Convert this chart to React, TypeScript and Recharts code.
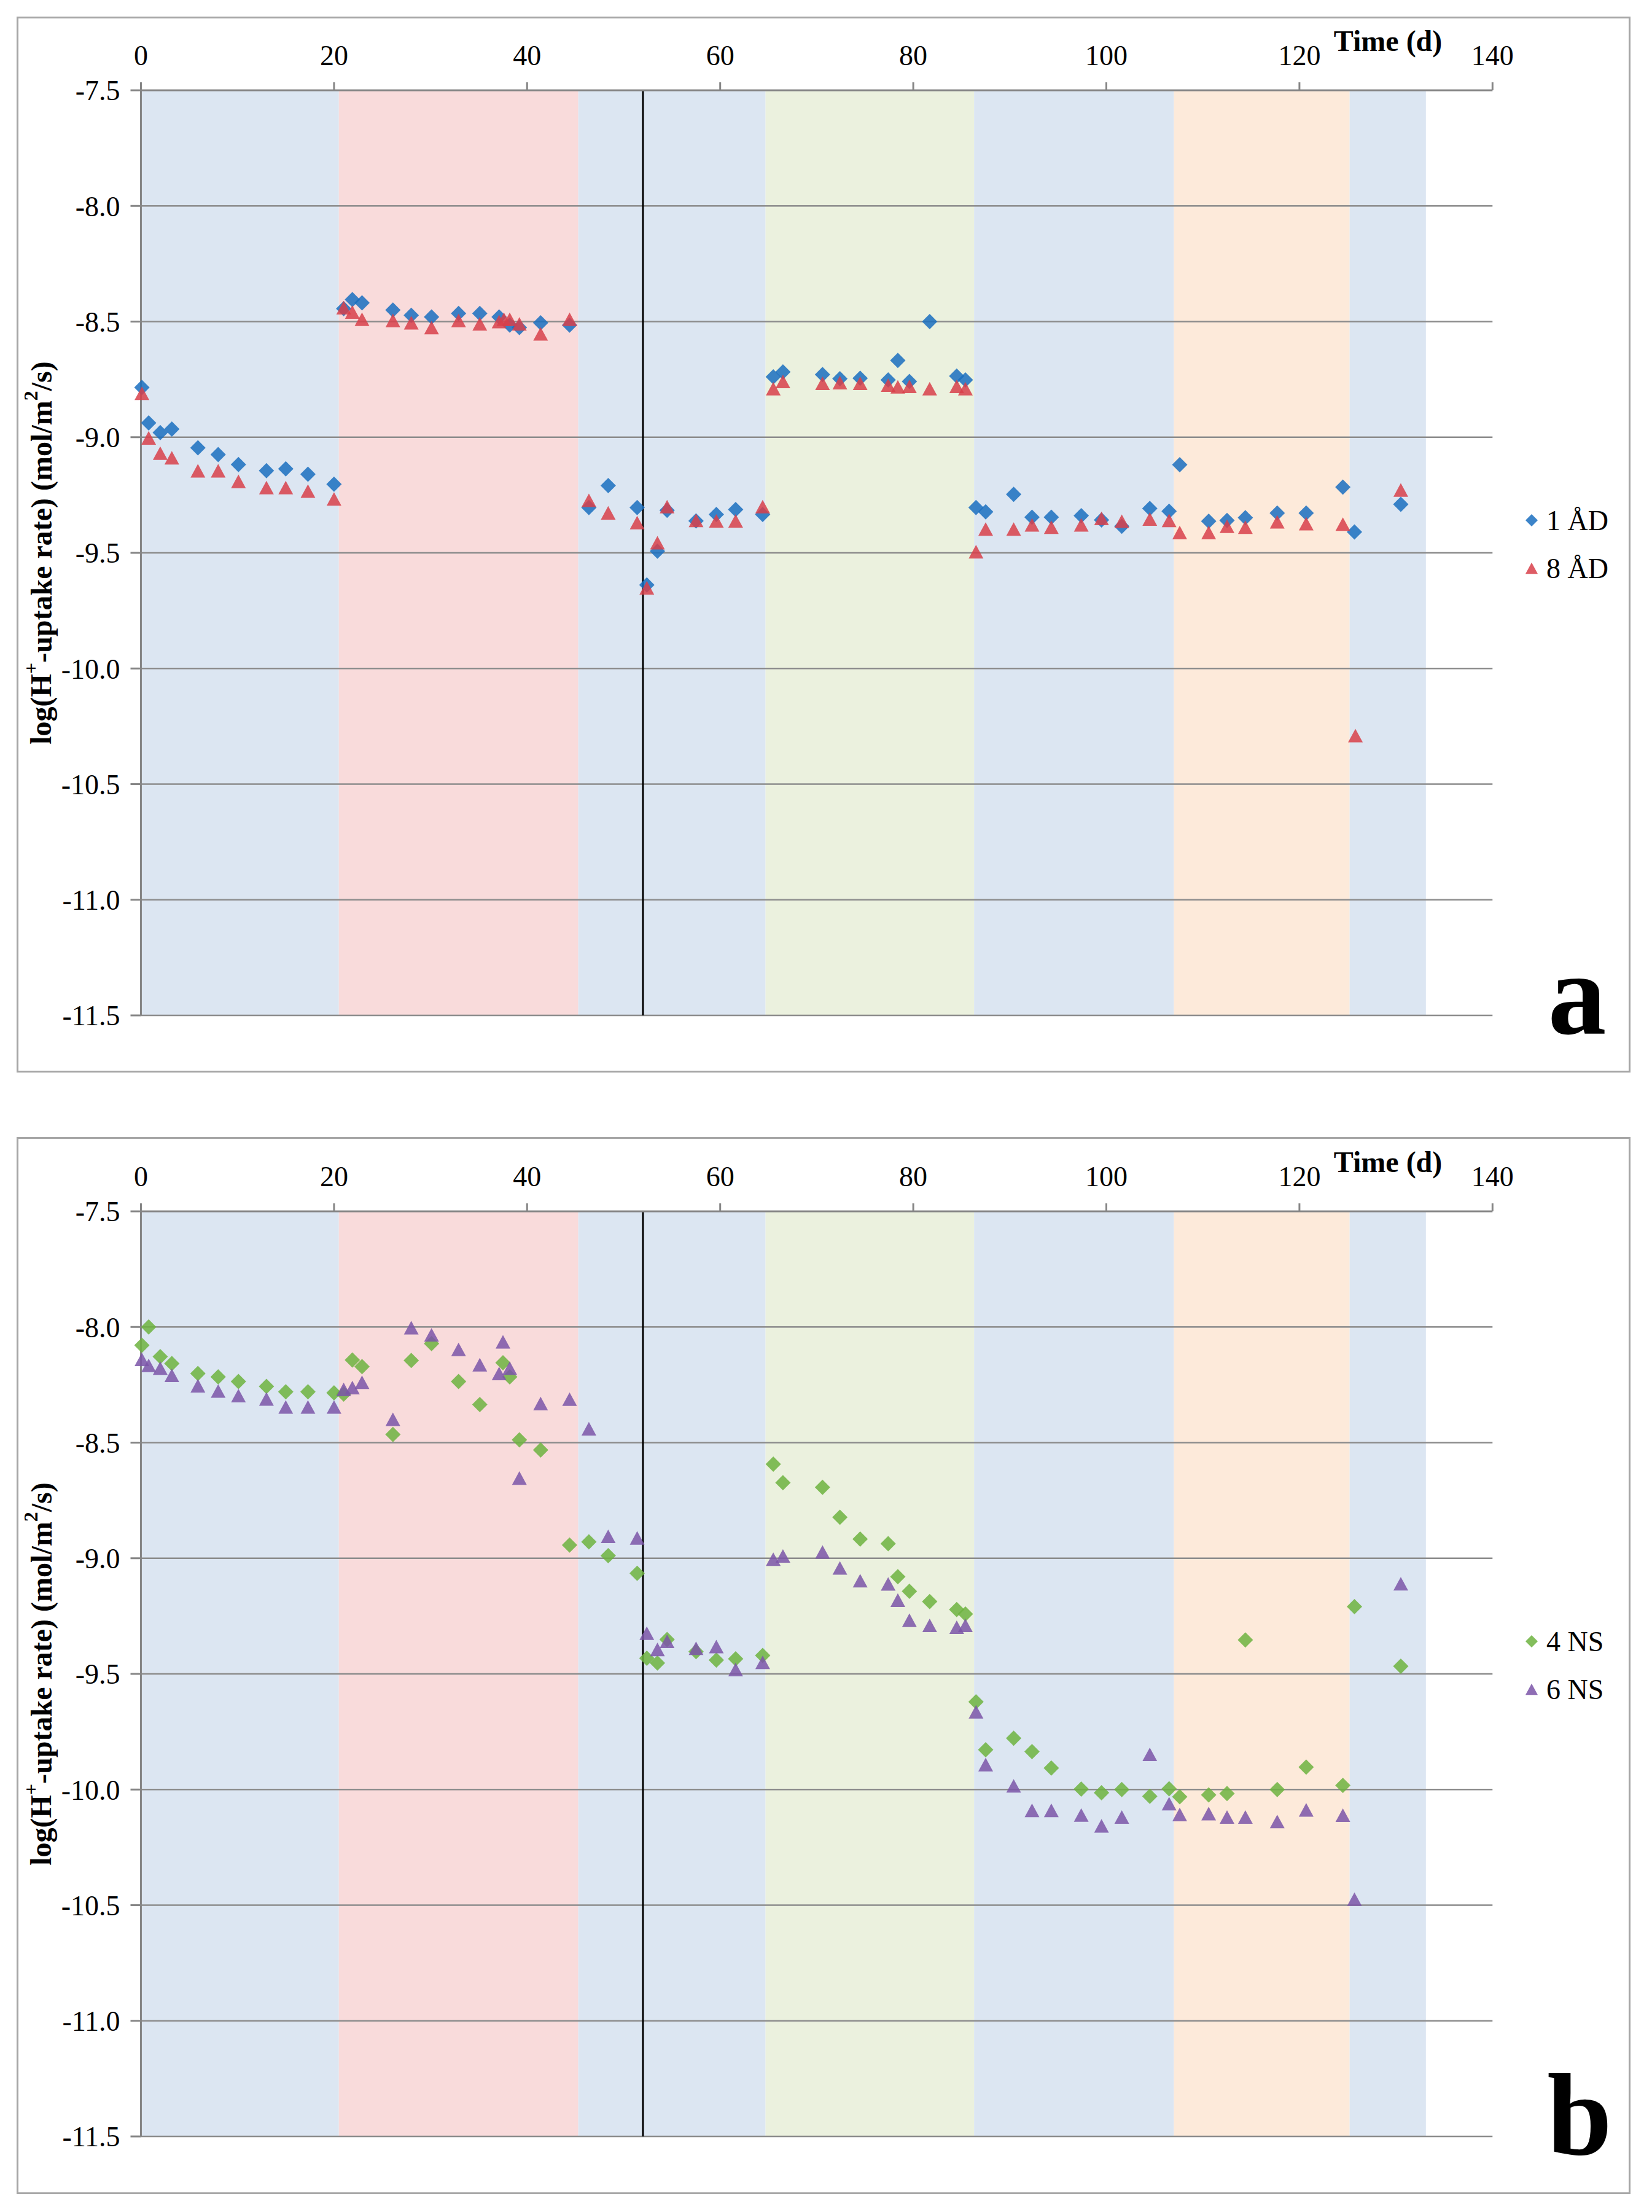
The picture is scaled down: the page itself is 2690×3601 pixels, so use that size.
import { ScatterChart, Scatter, XAxis, YAxis, ReferenceArea, ReferenceLine, Legend } from 'recharts';

document.body.style.margin = '0';

const SERIF = '"Liberation Serif", "Times New Roman", serif';

// time axis (days) and log rate axis
const xTicks = [0, 20, 40, 60, 80, 100, 120, 140];
const yTicks = [-7.5, -8.0, -8.5, -9.0, -9.5, -10.0, -10.5, -11.0, -11.5];
const gridValues = [-8.0, -8.5, -9.0, -9.5, -10.0, -10.5, -11.0, -11.5];

// background phases (day edges) and the marker line
const bandEdges = [0, 20.5, 45.3, 64.7, 86.3, 107.0, 125.2, 133.1];
const bandColors = ['#DCE6F2', '#F9DBDB', '#DCE6F2', '#EBF1DE', '#DCE6F2', '#FDEADA', '#DCE6F2'];
const markerDay = 52;

// panel a
const daysAD1 = [
  0.1, 0.8, 2.0, 3.2, 5.9, 8.0, 10.1, 13.0, 15.0, 17.3, 20.0,
  21.0, 21.9, 22.9, 26.1, 28.0, 30.1, 32.9, 35.1, 37.1, 38.2, 39.2, 41.4, 44.4,
  46.4, 48.4, 51.4, 52.4, 53.5, 54.5, 57.5, 59.6, 61.6, 64.4,
  65.5, 66.5, 70.6, 72.4, 74.5, 77.4, 78.4, 79.6, 81.7, 84.5, 85.4,
  86.5, 87.5, 90.4, 92.3, 94.3, 97.4, 99.5, 101.6, 104.5, 106.5,
  107.6, 110.6, 112.5, 114.4, 117.7, 120.7, 124.5, 125.7, 130.5,
];
const logAD1 = [
  -8.785, -8.938, -8.98, -8.965, -9.046, -9.075, -9.118, -9.145, -9.137, -9.16, -9.203,
  -8.444, -8.405, -8.419, -8.45, -8.473, -8.48, -8.465, -8.465, -8.48, -8.515, -8.526, -8.505, -8.515,
  -9.304, -9.209, -9.304, -9.639, -9.493, -9.316, -9.362, -9.334, -9.313, -9.334,
  -8.739, -8.718, -8.729, -8.747, -8.745, -8.752, -8.668, -8.759, -8.5, -8.736, -8.752,
  -9.304, -9.323, -9.247, -9.346, -9.346, -9.339, -9.358, -9.385, -9.308, -9.32,
  -9.119, -9.363, -9.36, -9.348, -9.328, -9.328, -9.216, -9.41, -9.29,
];
const daysAD8 = [
  0.1, 0.8, 2.0, 3.2, 5.9, 8.0, 10.1, 13.0, 15.0, 17.3, 20.0,
  21.0, 21.9, 22.9, 26.1, 28.0, 30.1, 32.9, 35.1, 37.1, 37.6, 38.2, 39.2, 41.4, 44.4,
  46.4, 48.4, 51.4, 52.4, 53.5, 54.5, 57.5, 59.6, 61.6, 64.4,
  65.5, 66.5, 70.6, 72.4, 74.5, 77.4, 78.4, 79.6, 81.7, 84.5, 85.4,
  86.5, 87.5, 90.4, 92.3, 94.3, 97.4, 99.5, 101.6, 104.5, 106.5,
  107.6, 110.6, 112.5, 114.4, 117.7, 120.7, 124.5, 125.8, 130.5,
];
const logAD8 = [
  -8.81, -9.003, -9.069, -9.089, -9.145, -9.145, -9.191, -9.218, -9.218, -9.233, -9.267,
  -8.44, -8.459, -8.49, -8.495, -8.505, -8.526, -8.495, -8.51, -8.5, -8.49, -8.49, -8.51, -8.553, -8.49,
  -9.273, -9.327, -9.369, -9.651, -9.456, -9.3, -9.36, -9.362, -9.362, -9.3,
  -8.79, -8.759, -8.767, -8.764, -8.767, -8.775, -8.782, -8.78, -8.79, -8.78, -8.79,
  -9.495, -9.397, -9.397, -9.379, -9.389, -9.379, -9.351, -9.363, -9.354, -9.36,
  -9.412, -9.412, -9.385, -9.389, -9.366, -9.374, -9.376, -10.29, -9.228,
];

// panel b
const daysNS4 = [
  0.1, 0.8, 2.0, 3.2, 5.9, 8.0, 10.1, 13.0, 15.0, 17.3, 20.0,
  21.0, 21.9, 22.9, 26.1, 28.0, 30.1, 32.9, 35.1, 37.5, 38.2, 39.2, 41.4, 44.4,
  46.4, 48.4, 51.4, 52.4, 53.5, 54.5, 57.5, 59.6, 61.6, 64.4,
  65.5, 66.5, 70.6, 72.4, 74.5, 77.4, 78.4, 79.6, 81.7, 84.5, 85.4,
  86.5, 87.5, 90.4, 92.3, 94.3, 97.4, 99.5, 101.6, 104.5, 106.5,
  107.6, 110.6, 112.5, 114.4, 117.7, 120.7, 124.5, 125.7, 130.5,
];
const logNS4 = [
  -8.079, -8.0, -8.128, -8.158, -8.201, -8.216, -8.236, -8.257, -8.28, -8.28, -8.285,
  -8.29, -8.143, -8.171, -8.465, -8.145, -8.072, -8.236, -8.335, -8.155, -8.216, -8.488, -8.532, -8.943,
  -8.929, -8.989, -9.065, -9.432, -9.453, -9.351, -9.404, -9.44, -9.435, -9.42,
  -8.593, -8.673, -8.693, -8.823, -8.917, -8.937, -9.08, -9.143, -9.187, -9.222, -9.241,
  -9.621, -9.828, -9.778, -9.836, -9.907, -9.998, -10.014, -10.0, -10.029, -9.997,
  -10.031, -10.023, -10.017, -9.353, -10.0, -9.903, -9.982, -9.209, -9.467,
];
const daysNS6 = [
  0.1, 0.8, 2.0, 3.2, 5.9, 8.0, 10.1, 13.0, 15.0, 17.3, 20.0,
  21.0, 21.9, 22.9, 26.1, 28.0, 30.1, 32.9, 35.1, 37.1, 37.5, 38.2, 39.2, 41.4, 44.4,
  46.4, 48.4, 51.4, 52.4, 53.5, 54.5, 57.5, 59.6, 61.6, 64.4,
  65.5, 66.5, 70.6, 72.4, 74.5, 77.4, 78.4, 79.6, 81.7, 84.5, 85.4,
  86.5, 87.5, 90.4, 92.3, 94.3, 97.4, 99.5, 101.6, 104.5, 106.5,
  107.6, 110.6, 112.5, 114.4, 117.7, 120.7, 124.5, 125.7, 130.5,
];
const logNS6 = [
  -8.14, -8.166, -8.178, -8.209, -8.254, -8.277, -8.297, -8.311, -8.346, -8.346, -8.346,
  -8.27, -8.262, -8.239, -8.399, -8.003, -8.034, -8.097, -8.163, -8.201, -8.064, -8.178, -8.653, -8.331, -8.312,
  -8.44, -8.905, -8.912, -9.324, -9.394, -9.359, -9.389, -9.382, -9.481, -9.45,
  -9.004, -8.99, -8.973, -9.042, -9.097, -9.111, -9.181, -9.268, -9.29, -9.298, -9.29,
  -9.664, -9.892, -9.984, -10.09, -10.09, -10.11, -10.157, -10.119, -9.848, -10.061,
  -10.108, -10.104, -10.119, -10.119, -10.138, -10.088, -10.111, -10.474, -9.11,
];

const toPoints = (days: number[], vals: number[]) => days.map((x, i) => ({ x, y: vals[i] }));

type Kind = 'diamond' | 'triangle';
interface SeriesDef {
  name: string;
  data: { x: number; y: number }[];
  color: string;
  kind: Kind;
}

const panelA: SeriesDef[] = [
  { name: '1 ÅD', data: toPoints(daysAD1, logAD1), color: '#1A6FC0', kind: 'diamond' },
  { name: '8 ÅD', data: toPoints(daysAD8, logAD8), color: '#D8404A', kind: 'triangle' },
];
const panelB: SeriesDef[] = [
  { name: '4 NS', data: toPoints(daysNS4, logNS4), color: '#6DB33F', kind: 'diamond' },
  { name: '6 NS', data: toPoints(daysNS6, logNS6), color: '#7B55A8', kind: 'triangle' },
];

const MARK_OPACITY = 0.85;

function markerPath(kind: Kind, cx: number, cy: number, r: number) {
  if (kind === 'diamond') {
    return `M${cx},${cy - r}L${cx + r},${cy}L${cx},${cy + r}L${cx - r},${cy}Z`;
  }
  const h = r * 0.92;
  return `M${cx},${cy - h}L${cx + r},${cy + h}L${cx - r},${cy + h}Z`;
}

const makeShape = (kind: Kind) => (props: any) => {
  const { cx, cy, fill } = props;
  if (cx == null || cy == null) return <g />;
  return <path d={markerPath(kind, cx, cy, kind === 'diamond' ? 12.5 : 12)} fill={fill} fillOpacity={MARK_OPACITY} />;
};

function TimeTitle(props: any) {
  const vb = props.viewBox ?? { x: 229.5, y: 47, width: 2200.8, height: 100 };
  return (
    <text x={vb.x + vb.width - 82} y={vb.y + 36} textAnchor="end" fontFamily={SERIF} fontWeight="bold" fontSize={48} fill="#000">
      Time (d)
    </text>
  );
}

function RateTitle(props: any) {
  const vb = props.viewBox ?? { x: 29.5, y: 147, width: 200, height: 1506 };
  const cx = vb.x + 37;
  const cy = vb.y + vb.height / 2;
  return (
    <text
      x={cx}
      y={cy}
      transform={`rotate(-90, ${cx}, ${cy})`}
      textAnchor="middle"
      dominantBaseline="central"
      fontFamily={SERIF}
      fontWeight="bold"
      fontSize={48}
      fill="#000"
    >
      log(H<tspan dy={-17} fontSize={32}>+</tspan>
      <tspan dy={17}>-uptake rate) (mol/m</tspan>
      <tspan dy={-17} fontSize={32}>2</tspan>
      <tspan dy={17}>/s)</tspan>
    </text>
  );
}

function LegendBox({ series }: { series: SeriesDef[] }) {
  return (
    <div style={{ fontFamily: SERIF, fontSize: 46, color: '#000' }}>
      {series.map((s) => (
        <div key={s.name} style={{ display: 'flex', alignItems: 'center', height: 78 }}>
          <svg width={22} height={22} style={{ marginRight: 13 }}>
            <path d={markerPath(s.kind, 11, 11, 10)} fill={s.color} fillOpacity={MARK_OPACITY} />
          </svg>
          <span>{s.name}</span>
        </div>
      ))}
    </div>
  );
}

const axisStroke = '#868686';

function Panel({ top, series }: { top: number; series: SeriesDef[] }) {
  return (
    <div style={{ position: 'absolute', left: 0, top }}>
      <ScatterChart width={2690} height={1800} margin={{ top: 47, right: 259.7, bottom: 147, left: 29.5 }}>
        <XAxis
          type="number"
          dataKey="x"
          orientation="top"
          domain={[0, 140]}
          ticks={xTicks}
          height={100}
          tickSize={13}
          tickMargin={28}
          axisLine={{ stroke: axisStroke, strokeWidth: 3 }}
          tickLine={{ stroke: axisStroke, strokeWidth: 3 }}
          tick={{ fill: '#000', fontSize: 46, fontFamily: SERIF }}
          label={<TimeTitle />}
        />
        <YAxis
          type="number"
          dataKey="y"
          domain={[-11.5, -7.5]}
          ticks={yTicks}
          width={200}
          tickSize={17}
          tickMargin={17}
          tickFormatter={(v: number) => v.toFixed(1)}
          axisLine={{ stroke: axisStroke, strokeWidth: 3 }}
          tickLine={{ stroke: axisStroke, strokeWidth: 3 }}
          tick={{ fill: '#000', fontSize: 46, fontFamily: SERIF }}
          label={<RateTitle />}
        />
        {bandColors.map((c, i) => (
          <ReferenceArea
            key={`band-${i}`}
            x1={bandEdges[i]}
            x2={bandEdges[i + 1]}
            y1={-11.5}
            y2={-7.5}
            fill={c}
            fillOpacity={1}
            stroke="none"
          />
        ))}
        {gridValues.map((v) => (
          <ReferenceLine key={`grid-${v}`} y={v} stroke="#8C8C8C" strokeWidth={2.5} />
        ))}
        <ReferenceLine x={markerDay} stroke="#000" strokeWidth={3} />
        {series.map((s) => (
          <Scatter
            key={s.name}
            name={s.name}
            data={s.data}
            fill={s.color}
            shape={makeShape(s.kind)}
            isAnimationActive={false}
          />
        ))}
        <Legend
          layout="vertical"
          align="center"
          verticalAlign="middle"
          wrapperStyle={{ left: 2483, top: 808, width: 200 }}
          content={() => <LegendBox series={series} />}
        />
      </ScatterChart>
    </div>
  );
}

export default function App() {
  return (
    <div style={{ position: 'relative', width: 2690, height: 3601, background: '#fff', fontFamily: SERIF }}>
      <style>{`svg text, svg tspan, .recharts-legend-wrapper { font-family: "Liberation Serif", "Times New Roman", serif !important; }`}</style>
      <div style={{ position: 'absolute', left: 27, top: 27, width: 2628, height: 1719, border: '3px solid #A6A6A6', boxSizing: 'border-box' }} />
      <div style={{ position: 'absolute', left: 27, top: 1851, width: 2628, height: 1721, border: '3px solid #A6A6A6', boxSizing: 'border-box' }} />
      <Panel top={0} series={panelA} />
      <Panel top={1825} series={panelB} />
      <svg width={2690} height={3601} style={{ position: 'absolute', left: 0, top: 0, pointerEvents: 'none' }}>
        <text x={2568} y={1683} textAnchor="middle" fontFamily={SERIF} fontWeight="bold" fontSize={190} fill="#000">a</text>
        <text x={2572} y={3508} textAnchor="middle" fontFamily={SERIF} fontWeight="bold" fontSize={190} fill="#000">b</text>
      </svg>
    </div>
  );
}
